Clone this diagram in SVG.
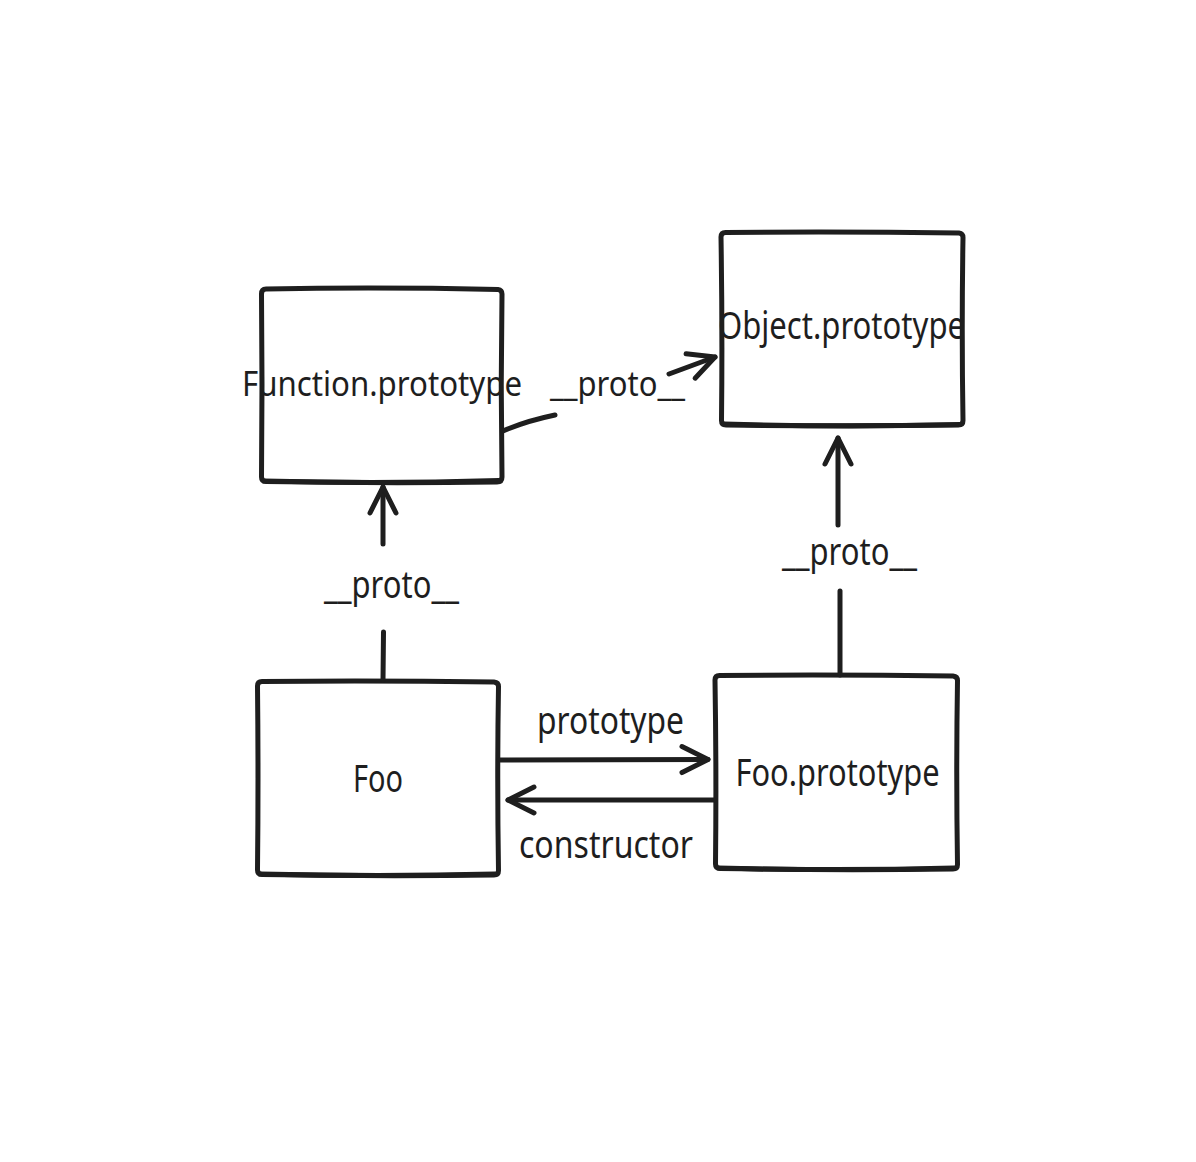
<svg xmlns="http://www.w3.org/2000/svg" width="1196" height="1162" viewBox="0 0 1196 1162">
<style>
.box{fill:#ffffff;stroke:#1e1e1e;stroke-width:5;stroke-linecap:round;stroke-linejoin:round}
.edge{fill:none;stroke:#1e1e1e;stroke-width:5;stroke-linecap:round;stroke-linejoin:round}
.lbl{font-family:"Noto Sans","Open Sans",sans-serif;font-size:38px;fill:#1e1e1e;text-anchor:middle}
</style>
<defs>
<marker id="ah" markerUnits="userSpaceOnUse" viewBox="-32 -18 36 36" markerWidth="36" markerHeight="36" refX="0" refY="0" orient="auto" overflow="visible">
<path d="M -26 -13 L 0 0 L -26 13" fill="none" stroke="#1e1e1e" stroke-width="5" stroke-linecap="round" stroke-linejoin="round"/>
</marker>
</defs>
<rect width="1196" height="1162" fill="#ffffff"/>
<g id="node-function-prototype">
<path class="box" d="M 266 289 Q 380 287 498 289.5 Q 502 290 502 294 Q 500.5 385 502 477 Q 502 482 497 482 Q 380 483.5 266 481.5 Q 261.5 481.5 261.5 477 Q 262.5 385 261.5 294 Q 261.5 289 266 289 Z"/>
<path class="edge" d="M 264 481 Q 380 484 499 480.5"/>
<text class="lbl" x="382" y="396" style="font-size:34px" textLength="280" lengthAdjust="spacingAndGlyphs">Function.prototype</text>
</g>
<g id="node-object-prototype">
<path class="box" d="M 725.5 232.5 Q 842 231.5 959 233 Q 963 233.5 963 237.5 Q 961.5 330 963 420.5 Q 963 425 958.5 425 Q 842 426.5 726 425 Q 721.5 425 721.5 420.5 Q 722.5 330 721 237 Q 721 232.5 725.5 232.5 Z"/>
<path class="edge" d="M 724 424 Q 842 427.5 960 424.5"/>
<text class="lbl" x="841.5" y="339" textLength="247" lengthAdjust="spacingAndGlyphs">Object.prototype</text>
</g>
<g id="node-foo">
<path class="box" d="M 262 681.5 Q 378 680.5 494 682 Q 498.5 682.5 498.5 686.5 Q 497 778 498.5 870.5 Q 498.5 875 494 875 Q 378 876.5 262 874.5 Q 257.5 874.5 257.5 870 Q 258.5 778 257.5 686 Q 257.5 681.5 262 681.5 Z"/>
<path class="edge" d="M 260 874 Q 378 877 495 874"/>
<text class="lbl" x="378" y="792" textLength="50" lengthAdjust="spacingAndGlyphs">Foo</text>
</g>
<g id="node-foo-prototype">
<path class="box" d="M 719.5 675.5 Q 836 674.5 953 676 Q 957.5 676.5 957.5 680.5 Q 956 772 957.5 864.5 Q 957.5 869 953 869 Q 836 870.5 720 868.5 Q 715.5 868.5 715.5 864 Q 716.5 772 715 680 Q 715 675.5 719.5 675.5 Z"/>
<path class="edge" d="M 718 868 Q 836 871 954 868"/>
<text class="lbl" x="837.5" y="786" textLength="204" lengthAdjust="spacingAndGlyphs">Foo.prototype</text>
</g>
<g id="connectors">
<path class="edge" d="M 503 431 Q 526 421 555 415"/>
<path class="edge" d="M 669 374 L 715 357" marker-end="url(#ah)"/>
<path class="edge" d="M 383 680 L 383.5 632"/>
<path class="edge" d="M 383 544 L 383 487" marker-end="url(#ah)"/>
<path class="edge" d="M 840 675 L 840 591"/>
<path class="edge" d="M 838 525 L 838 438" marker-end="url(#ah)"/>
<path class="edge" d="M 499 760 L 708 759.5" marker-end="url(#ah)"/>
<path class="edge" d="M 714 800 L 508 800" marker-end="url(#ah)"/>
<text class="lbl" x="617.5" y="396" style="font-size:35px" textLength="135" lengthAdjust="spacingAndGlyphs">__proto__</text>
<text class="lbl" x="391.5" y="598" textLength="135" lengthAdjust="spacingAndGlyphs">__proto__</text>
<text class="lbl" x="849.5" y="565" textLength="135" lengthAdjust="spacingAndGlyphs">__proto__</text>
<text class="lbl" x="610.5" y="734" textLength="147" lengthAdjust="spacingAndGlyphs">prototype</text>
<text class="lbl" x="606" y="858" textLength="174" lengthAdjust="spacingAndGlyphs">constructor</text>
</g>
</svg>
